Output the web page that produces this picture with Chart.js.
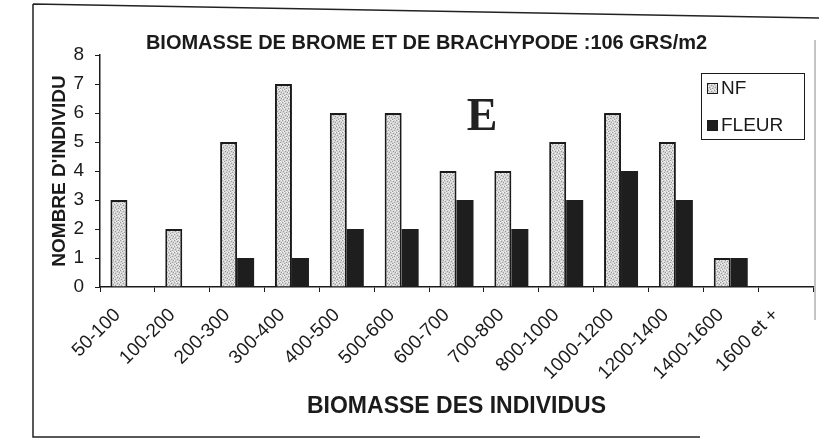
<!DOCTYPE html>
<html>
<head>
<meta charset="utf-8">
<script src="https://cdn.jsdelivr.net/npm/chart.js@4"></script>
<style>
  html, body { margin: 0; padding: 0; background: #fff; }
  #wrap { width: 819px; height: 441px; position: relative; }
</style>
</head>
<body>
<div id="wrap"><canvas id="biomasse"></canvas></div>
<script>
// Classes de biomasse (g) et effectifs par classe
const categories = ['50-100', '100-200', '200-300', '300-400', '400-500', '500-600', '600-700',
  '700-800', '800-1000', '1000-1200', '1200-1400', '1400-1600', '1600 et +'];
const nfCounts = [3, 2, 5, 7, 6, 6, 4, 4, 5, 6, 5, 1, 0];
const fleurCounts = [0, 0, 1, 1, 2, 2, 3, 2, 3, 4, 3, 1, 0];
const yTicks = [0, 1, 2, 3, 4, 5, 6, 7, 8];

const FONT = "'Liberation Sans', Arial, sans-serif";
const INK = '#1b1b1b';

// stippled light grey fill for the NF bars
function stipple() {
  const c = document.createElement('canvas');
  c.width = 6; c.height = 6;
  const g = c.getContext('2d');
  g.fillStyle = '#d4d4d4';
  g.fillRect(0, 0, 6, 6);
  g.fillStyle = '#9a9a9a';
  [[0, 0], [3, 1], [1, 3], [4, 4], [5, 2], [2, 5]].forEach(([x, y]) => g.fillRect(x, y, 1, 1));
  g.fillStyle = '#f2f2f2';
  [[2, 0], [5, 0], [0, 2], [3, 3], [1, 5], [4, 5]].forEach(([x, y]) => g.fillRect(x, y, 1, 1));
  return g.createPattern(c, 'repeat');
}
const nfFill = stipple();

// frame, big letter and boxed legend
const decor = {
  id: 'decor',
  afterDraw(chart) {
    const ctx = chart.ctx;
    ctx.save();
    ctx.strokeStyle = '#222';
    ctx.lineWidth = 1.5;
    ctx.beginPath();
    ctx.moveTo(33, 4); ctx.lineTo(819, 18);
    ctx.moveTo(33, 4); ctx.lineTo(33, 437);
    ctx.lineTo(700, 437);
    ctx.stroke();
    ctx.strokeStyle = '#888';
    ctx.lineWidth = 1;
    ctx.beginPath();
    ctx.moveTo(815, 40); ctx.lineTo(815, 320);
    ctx.stroke();

    ctx.fillStyle = '#222';
    ctx.font = "bold 46px 'Liberation Serif', 'Times New Roman', serif";
    ctx.textAlign = 'center';
    ctx.textBaseline = 'middle';
    ctx.fillText('E', 482, 118);

    // legend
    ctx.strokeStyle = INK;
    ctx.lineWidth = 1;
    ctx.strokeRect(701.5, 73.5, 103, 66);
    ctx.font = '19px ' + FONT;
    ctx.textAlign = 'left';
    const rows = [88, 125];
    chart.data.datasets.forEach((ds, i) => {
      const y = rows[i];
      ctx.fillStyle = ds.backgroundColor;
      ctx.fillRect(707, y - 5, 11, 11);
      ctx.strokeStyle = INK;
      ctx.strokeRect(707.5, y - 4.5, 10, 10);
      ctx.fillStyle = INK;
      ctx.fillText(ds.label, 721, y + 1);
    });
    ctx.restore();
  }
};

new Chart(document.getElementById('biomasse'), {
  type: 'bar',
  data: {
    labels: categories,
    datasets: [
      { label: 'NF', data: nfCounts, backgroundColor: nfFill, borderColor: INK, borderWidth: 2,
        barPercentage: 1, categoryPercentage: 0.62 },
      { label: 'FLEUR', data: fleurCounts, backgroundColor: '#1e1e1e', borderWidth: 0,
        barPercentage: 1, categoryPercentage: 0.62 }
    ]
  },
  options: {
    responsive: true,
    maintainAspectRatio: false,
    animation: false,
    layout: { padding: { left: 40, right: 6, top: 0, bottom: 0 } },
    plugins: {
      legend: { display: false },
      tooltip: { enabled: false },
      title: {
        display: true,
        text: 'BIOMASSE DE BROME ET DE BRACHYPODE :106 GRS/m2',
        color: INK,
        font: { family: FONT, size: 20, weight: 'bold' },
        padding: { top: 31, bottom: 0 }
      }
    },
    scales: {
      x: {
        afterFit(scale) { scale.height = 154; },
        grid: { display: true, drawOnChartArea: false, tickLength: 5, color: INK, lineWidth: 1 },
        border: { display: true, color: INK, width: 1.5 },
        ticks: { color: INK, minRotation: 45, maxRotation: 45, autoSkip: false, padding: 12,
          labelOffset: -10, font: { family: FONT, size: 19 } },
        title: { display: true, text: 'BIOMASSE DES INDIVIDUS', color: INK,
          font: { family: FONT, size: 23, weight: 'bold' }, padding: { top: 0, bottom: 21 } }
      },
      y: {
        min: 0,
        max: 8,
        afterFit(scale) { scale.width = 60; },
        afterBuildTicks(scale) { scale.ticks = yTicks.map(v => ({ value: v })); },
        grid: { display: true, drawOnChartArea: false, tickLength: 5, color: INK, lineWidth: 1 },
        border: { display: true, color: INK, width: 1.5 },
        ticks: { color: INK, padding: 11, font: { family: FONT, size: 19 } },
        title: { display: true, text: "NOMBRE D'INDIVIDU", color: INK,
          font: { family: FONT, size: 19, weight: 'bold' }, padding: { top: 8, bottom: 0 } }
      }
    }
  },
  plugins: [decor]
});
</script>
</body>
</html>
